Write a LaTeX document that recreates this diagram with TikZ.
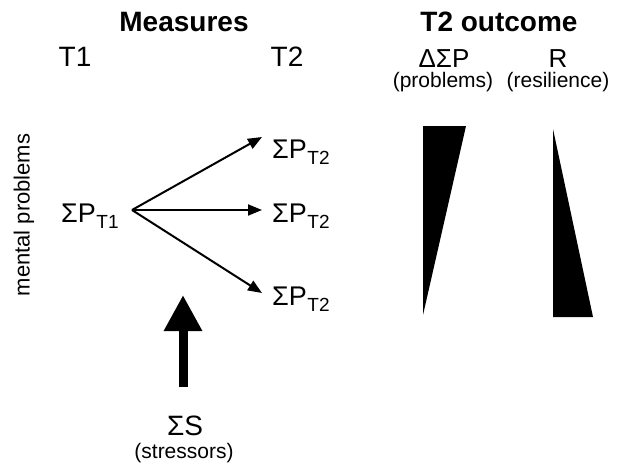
\documentclass[tikz,border=0pt]{standalone}
\usepackage{fontspec}
\setmainfont{Liberation Sans}
\usetikzlibrary{arrows.meta}
\newcommand{\fs}[1]{\fontsize{#1}{#1}\selectfont}
\newcommand{\SP}[1]{ΣP\kern0.5pt\raisebox{-6pt}{\fs{19}#1}}
\begin{document}
\begin{tikzpicture}[x=1pt,y=-1pt,
  txt/.style={inner sep=0pt, font=\fs{26}},
  head/.style={inner sep=0pt, font=\fs{28}\bfseries},
  small/.style={inner sep=0pt, font=\fs{21}},
  arr/.style={line width=2pt, -{Triangle[length=14pt,width=11pt]}},
  wedge/.style={fill=black, draw=none}]
\useasboundingbox (0,0) rectangle (617,468);
% headings
\node[head] (meas) at (184,22) {Measures};
\node[head] (out) at (499,22) {T2 outcome};
\node[txt, font=\fs{28}] (t1) at (75,57) {T1};
\node[txt, font=\fs{28}] (t2) at (287,57) {T2};
\node[txt] (dsp) at (444,59) {ΔΣP};
\node[txt] (r) at (558,59) {R};
\node[small] (prob) at (443,82) {(problems)};
\node[small] (res) at (558,82) {(resilience)};
% side label
\node[small, font=\fs{22}, rotate=90] (mp) at (24,215) {mental problems};
% measures
\node[txt, font=\fs{27}, anchor=base west] (p1) at (61,222) {\SP{T1}};
\node[txt, font=\fs{27}, anchor=base west] (p2a) at (272,158) {\SP{T2}};
\node[txt, font=\fs{27}, anchor=base west] (p2b) at (272,222) {\SP{T2}};
\node[txt, font=\fs{27}, anchor=base west] (p2c) at (272,305) {\SP{T2}};
\coordinate (o) at (132,210);
\coordinate (ea) at (262,137);
\coordinate (eb) at (262,210);
\coordinate (ec) at (262,293);
\draw[arr] (o) -- (ea);
\draw[arr] (o) -- (eb);
\draw[arr] (o) -- (ec);
% stressors
\node[txt, font=\fs{28}, anchor=base] (s) at (185,435) {ΣS};
\node[small] (str) at (184,453) {(stressors)};
\coordinate (sb) at (183,387);
\coordinate (st) at (183,295);
\draw[line width=9pt, -{Triangle[length=36pt,width=36pt]}] (sb) -- (st);
% wedges
\fill[wedge] (423,126) -- (466,126) -- (423,315) -- cycle;
\fill[wedge] (553,129) -- (553,317) -- (593,317) -- cycle;
\end{tikzpicture}
\end{document}
